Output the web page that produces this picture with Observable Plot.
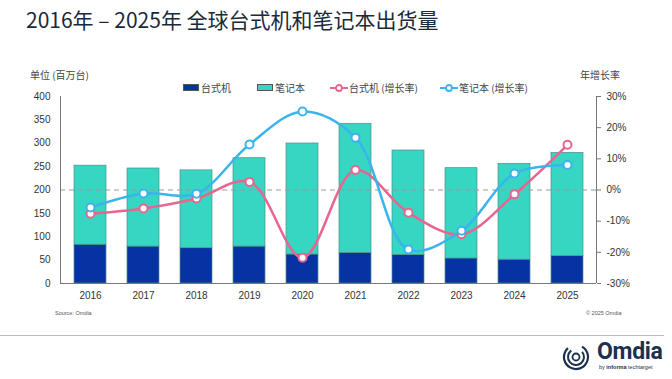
<!DOCTYPE html>
<html>
<head>
<meta charset="utf-8">
<script src="https://cdn.jsdelivr.net/npm/d3@7"></script>
<script src="https://cdn.jsdelivr.net/npm/@observablehq/plot@0.6"></script>
<style>
  html, body { margin: 0; padding: 0; background: #fff; }
  body { width: 672px; height: 379px; position: relative; overflow: hidden;
         font-family: "Liberation Sans", "Noto Sans CJK SC", sans-serif; }
  .abs { position: absolute; white-space: nowrap; }
  #title { left: 26px; top: 4px; font-size: 21px; color: #1b2a3a;
           font-family: "Noto Sans CJK SC", sans-serif; }
  .small { font-size: 10px; color: #444; font-family: "Noto Sans CJK SC", sans-serif; }
  .leg { position: absolute; top: 80px; font-size: 10px; color: #444; display: flex; align-items: center;
         font-family: "Noto Sans CJK SC", sans-serif; }
  .sw { display: inline-block; width: 14px; height: 5px; margin-right: 2px; }
  #chart { position: absolute; left: 0; top: 0; }
  .note { font-size: 5.5px; color: #555; }
  #rule { position: absolute; left: 0; top: 335px; width: 664px; height: 1px; background: #bbb; }
</style>
</head>
<body>
<div id="chart"></div>
<div id="title" class="abs">2016年 – 2025年 全球台式机和笔记本出货量</div>
<div class="abs small" style="left:30px; top:67px;">单位 (百万台)</div>
<div class="abs small" style="left:580px; top:67px;">年增长率</div>
<div id="legend"></div>
<div class="abs note" style="left:55px; top:310px;">Source: Omdia</div>
<div class="abs note" style="left:586px; top:310px;">© 2025 Omdia</div>
<div id="rule"></div>
<div class="abs" style="left:562px; top:342px;">
  <svg width="30" height="30" viewBox="0 0 30 30">
    <circle cx="14" cy="15" r="12" fill="none" stroke="#1c3050" stroke-width="2.2" stroke-dasharray="60 16" transform="rotate(-60 14 15)"/>
    <circle cx="14" cy="15" r="8" fill="none" stroke="#1c3050" stroke-width="2" stroke-dasharray="38 12" transform="rotate(-40 14 15)"/>
    <circle cx="14" cy="15" r="3.5" fill="none" stroke="#1c3050" stroke-width="1.8"/>
  </svg>
</div>
<div class="abs" style="left:597px; top:338px; font-size:23px; font-weight:bold; color:#1c3050; font-family:'Roboto','Liberation Sans',sans-serif; letter-spacing:-0.3px;">Omdia</div>
<div class="abs" style="left:599px; top:364px; font-size:5.5px; color:#1c3050;">by <b>informa</b> techtarget</div>
<script>
const years = ["2016","2017","2018","2019","2020","2021","2022","2023","2024","2025"];
const desktop = [83, 79, 75.5, 79, 62, 65.6, 61, 53.5, 51, 58.5];
const notebook = [169, 167, 166.5, 189, 237.5, 276, 223.5, 193.2, 205, 221];
const desktopGrowth = [-7.6, -5.9, -2.7, 2.6, -21.7, 6.4, -7.3, -14.2, -1.4, 14.5];
const notebookGrowth = [-5.6, -1.1, -1.2, 14.6, 25.2, 16.8, -19.1, -13.1, 5.3, 8.0];
const leftTicks = [0, 50, 100, 150, 200, 250, 300, 350, 400];
const rateTicks = [-30, -20, -10, 0, 10, 20, 30];
const seriesNames = ["台式机", "笔记本", "台式机 (增长率)", "笔记本 (增长率)"];
const colors = ["#0633a3", "#36d6c3", "#e8658f", "#3ab4ec"];

// growth rate (%) mapped onto the shipment axis: -30% → 0, 0% → 200, 30% → 400
const rateToY = r => 200 + r * 200 / 30;

const bars = [];
years.forEach((y, i) => {
  bars.push({year: y, type: seriesNames[0], value: desktop[i]});
  bars.push({year: y, type: seriesNames[1], value: notebook[i]});
});
const dGrowth = years.map((y, i) => ({year: y, v: rateToY(desktopGrowth[i])}));
const nGrowth = years.map((y, i) => ({year: y, v: rateToY(notebookGrowth[i])}));

const axisLines = (index, scales, values, dimensions) => {
  const {marginLeft, marginRight, width} = dimensions;
  const g = d3.create("svg:g").attr("stroke", "#777").attr("stroke-width", 1);
  const y0 = scales.y(0), y1 = scales.y(400);
  g.append("line").attr("x1", marginLeft + 0.5).attr("x2", marginLeft + 0.5).attr("y1", y0).attr("y2", y1);
  g.append("line").attr("x1", width - marginRight + 0.5).attr("x2", width - marginRight + 0.5).attr("y1", y0).attr("y2", y1);
  return g.node();
};

const chart = Plot.plot({
  width: 672,
  height: 379,
  marginLeft: 60,
  marginRight: 76,
  marginTop: 96,
  marginBottom: 96,
  style: {fontFamily: "Liberation Sans, sans-serif", fontSize: "10px", color: "#333", background: "transparent"},
  x: {domain: years, paddingInner: 0.4, paddingOuter: 0.2, label: null},
  y: {domain: [0, 400], label: null},
  color: {domain: seriesNames.slice(0, 2), range: colors.slice(0, 2)},
  marks: [
    Plot.barY(bars, Plot.stackY({x: "year", y: "value", fill: "type", stroke: "#4f8f88", strokeWidth: 0.7})),
    Plot.ruleY([200], {stroke: "#999", strokeWidth: 1.2, strokeDasharray: "5,4"}),
    Plot.ruleY([0], {stroke: "#777"}),
    axisLines,
    Plot.axisX({tickSize: 0, tickPadding: 8, fontSize: 10, fill: "#333"}),
    Plot.axisY({anchor: "left", ticks: leftTicks, tickSize: 0, tickPadding: 10, fontSize: 10, fill: "#333"}),
    Plot.axisY({anchor: "right", ticks: rateTicks.map(rateToY), tickSize: 4, tickPadding: 6,
      tickFormat: v => Math.round((v - 200) * 30 / 200) + "%", fontSize: 10, fill: "#333", stroke: "#777"}),
    Plot.line(dGrowth, {x: "year", y: "v", stroke: colors[2], strokeWidth: 2.5, curve: "catmull-rom"}),
    Plot.line(nGrowth, {x: "year", y: "v", stroke: colors[3], strokeWidth: 2.5, curve: "catmull-rom"}),
    Plot.dot(dGrowth, {x: "year", y: "v", r: 4, fill: "white", stroke: colors[2], strokeWidth: 2}),
    Plot.dot(nGrowth, {x: "year", y: "v", r: 4, fill: "white", stroke: colors[3], strokeWidth: 2})
  ]
});
document.getElementById("chart").appendChild(chart);

// legend
const legend = document.getElementById("legend");
const legPos = [183, 257, 330, 440];
seriesNames.forEach((name, i) => {
  const item = document.createElement("div");
  item.className = "leg";
  item.style.left = legPos[i] + "px";
  if (i < 2) {
    item.innerHTML = `<span class="sw" style="background:${colors[i]};border:0.5px solid #555"></span>${name}`;
  } else {
    item.innerHTML = `<svg width="18" height="10" style="margin-right:1px"><line x1="0" x2="18" y1="5" y2="5" stroke="${colors[i]}" stroke-width="2"/><circle cx="9" cy="5" r="3" fill="white" stroke="${colors[i]}" stroke-width="1.8"/></svg>${name}`;
  }
  legend.appendChild(item);
});
</script>
</body>
</html>
